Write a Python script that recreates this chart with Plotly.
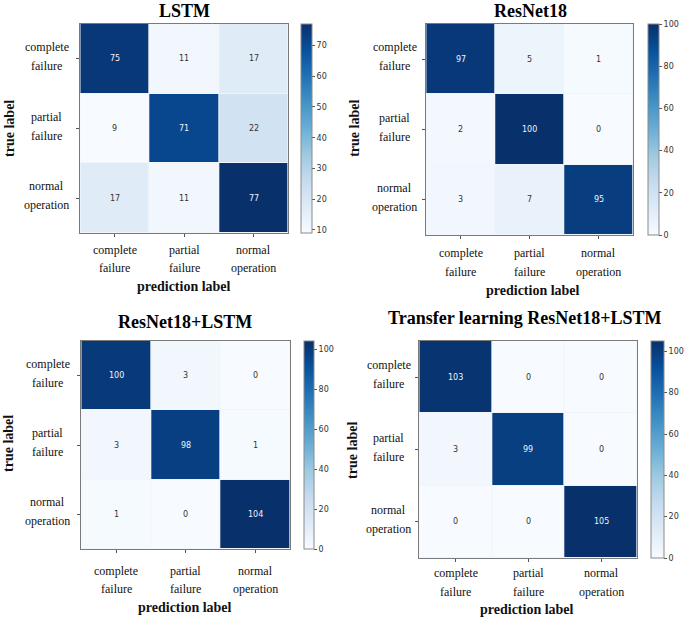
import plotly.graph_objects as go
import plotly.colors as pc

W, H = 685, 617

labels = [["complete", "failure"], ["partial", "failure"], ["normal", "operation"]]
titles = ["LSTM", "ResNet18", "ResNet18+LSTM", "Transfer learning ResNet18+LSTM"]

lstm = [[75, 11, 17], [9, 71, 22], [17, 11, 77]]
resnet18 = [[97, 5, 1], [2, 100, 0], [3, 7, 95]]
resnet18_lstm = [[100, 3, 0], [3, 98, 1], [1, 0, 104]]
transfer = [[103, 0, 0], [3, 99, 0], [0, 0, 105]]

mats = [lstm, resnet18, resnet18_lstm, transfer]
zranges = [(9, 77), (0, 100), (0, 104), (0, 105)]
cbar_ticks = [[10, 20, 30, 40, 50, 60, 70], [0, 20, 40, 60, 80, 100],
              [0, 20, 40, 60, 80, 100], [0, 20, 40, 60, 80, 100]]

# pixel layout of each panel: heatmap box, colorbar box, label positions
panels = [
    dict(hx=(81, 291), hy=(24, 233), cx=(304, 315), tx=186, ty=11,
         ylab=47, tl=(9, 128), xl=(250, 268), pl=(186, 287)),
    dict(hx=(430, 639), hy=(24, 235), cx=(654, 665), tx=535, ty=11,
         ylab=398, tl=(357, 128), xl=(253, 272), pl=(538, 290)),
    dict(hx=(82, 293), hy=(341, 549), cx=(307, 317), tx=187, ty=322,
         ylab=48, tl=(8, 443), xl=(571, 589), pl=(187, 607)),
    dict(hx=(423, 643), hy=(341, 558), cx=(657, 670), tx=530, ty=318,
         ylab=392, tl=(355, 450), xl=(573, 592), pl=(532, 609)),
]


def px(x):
    return x / W


def py(y):
    return 1 - y / H


blues = pc.sequential.Blues
serif = "Liberation Serif, Times New Roman, serif"
sans = "DejaVu Sans, Arial, sans-serif"


def note(**kw):
    d = dict(showarrow=False, xanchor="center", yanchor="middle")
    d.update(kw)
    return d


fig = go.Figure()
annotations = []
idx = [0, 1, 2]

for i, (m, zr, ct, p) in enumerate(zip(mats, zranges, cbar_ticks, panels)):
    n = "" if i == 0 else str(i + 1)
    fig.add_trace(go.Heatmap(
        z=m, x=idx, y=idx, zmin=zr[0], zmax=zr[1], colorscale=blues,
        xgap=1, ygap=1, xaxis="x" + n, yaxis="y" + n, hoverinfo="z",
        colorbar=dict(
            x=px(p["cx"][0]), xanchor="left",
            y=py((p["hy"][0] + p["hy"][1]) / 2), yanchor="middle",
            len=(p["hy"][1] - p["hy"][0]) / H, lenmode="fraction",
            thickness=p["cx"][1] - p["cx"][0], outlinewidth=1,
            outlinecolor="#8a8a8a", tickvals=ct, ticks="outside", ticklen=3,
            tickcolor="#555", tickfont=dict(family=sans, size=8, color="#333"),
            xpad=0, ypad=0,
        ),
    ))
    fig.update_layout(**{
        "xaxis" + n: dict(
            domain=[px(p["hx"][0]), px(p["hx"][1])], anchor="y" + n,
            range=[-0.5, 2.5], tickvals=idx, showticklabels=False,
            ticks="outside", ticklen=3, tickcolor="#555", showgrid=False,
            zeroline=False, showline=True, mirror=True, linecolor="#7a7a7a",
            linewidth=1),
        "yaxis" + n: dict(
            domain=[py(p["hy"][1]), py(p["hy"][0])], anchor="x" + n,
            range=[2.5, -0.5], tickvals=idx, showticklabels=False,
            ticks="outside", ticklen=3, tickcolor="#555", showgrid=False,
            zeroline=False, showline=True, mirror=True, linecolor="#7a7a7a",
            linewidth=1),
    })
    xr, yr = "x" + n, "y" + n
    thresh = (max(max(r) for r in m) + min(min(r) for r in m)) / 2
    for r in range(3):
        for c in range(3):
            v = m[r][c]
            annotations.append(note(
                x=c, y=r, xref=xr, yref=yr, text=str(v),
                font=dict(family=sans, size=8,
                          color="#f0f4fa" if v > thresh else "#333333")))
    tick_font = dict(family=serif, size=12, color="#111")
    for k, (l1, l2) in enumerate(labels):
        # y tick labels
        annotations.append(note(x=px(p["ylab"]), y=k, xref="paper", yref=yr,
                                text=l1, yshift=12, font=tick_font))
        annotations.append(note(x=px(p["ylab"]), y=k, xref="paper", yref=yr,
                                text=l2, yshift=-7, font=tick_font))
        # x tick labels
        annotations.append(note(x=k, y=py(p["xl"][0]), xref=xr, yref="paper",
                                text=l1, font=tick_font))
        annotations.append(note(x=k, y=py(p["xl"][1]), xref=xr, yref="paper",
                                text=l2, font=tick_font))
    annotations.append(note(x=px(p["tx"]), y=py(p["ty"]), xref="paper",
                            yref="paper", text="<b>" + titles[i] + "</b>",
                            font=dict(family=serif, size=18, color="#000")))
    annotations.append(note(x=px(p["pl"][0]), y=py(p["pl"][1]), xref="paper",
                            yref="paper", text="<b>prediction label</b>",
                            font=dict(family=serif, size=14, color="#111")))
    annotations.append(note(x=px(p["tl"][0]), y=py(p["tl"][1]), xref="paper",
                            yref="paper", text="<b>true label</b>",
                            textangle=-90,
                            font=dict(family=serif, size=14, color="#111")))

fig.update_layout(
    width=W, height=H, margin=dict(l=0, r=0, t=0, b=0),
    paper_bgcolor="white", plot_bgcolor="#f0f5fb",
    annotations=annotations, showlegend=False,
)

fig.write_html("out.html", config={"displayModeBar": False},
               post_script="document.body.style.margin='0';")
